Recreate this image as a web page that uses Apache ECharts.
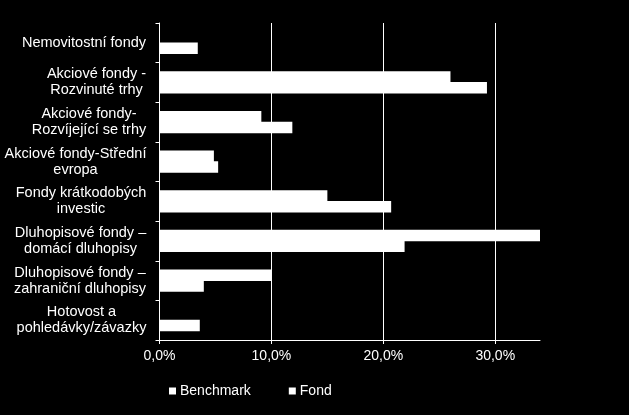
<!DOCTYPE html>
<html><head><meta charset="utf-8">
<script src="https://cdn.jsdelivr.net/npm/echarts@6/dist/echarts.min.js"></script>
<style>html,body{margin:0;padding:0;background:#000}#c{width:629px;height:415px}</style>
</head><body><div id="c"></div>
<script>
const categories = [
  "Nemovitostní fondy",
  "Akciové fondy -\nRozvinuté trhy",
  "Akciové fondy-\nRozvíjející se trhy",
  "Akciové fondy-Střední\nevropa",
  "Fondy krátkodobých\ninvestic",
  "Dluhopisové fondy –\ndomácí dluhopisy",
  "Dluhopisové fondy –\nzahraniční dluhopisy",
  "Hotovost a\npohledávky/závazky"
];
const benchmark = [0, 0.260, 0.091, 0.0486, 0.150, 0.340, 0.100, 0];
const fond = [0.0342, 0.2926, 0.1187, 0.0524, 0.207, 0.219, 0.0396, 0.036];
const seriesNames = ["Benchmark", "Fond"];
const xTickLabels = ["0,0%", "10,0%", "20,0%", "30,0%"];

const FAMILY = '"Liberation Sans", Arial, sans-serif';
const CAT_SIZE = 14.5;
const ctx = document.createElement('canvas').getContext('2d');
ctx.font = CAT_SIZE + 'px ' + FAMILY;
const rich = {};
categories.forEach((c, i) => {
  const w = Math.max(...c.split('\n').map(l => ctx.measureText(l).width));
  rich['r' + i] = { width: Math.ceil(w), align: 'center', color: '#fff', fontSize: CAT_SIZE, fontFamily: FAMILY, lineHeight: 16 };
});

const chart = echarts.init(document.getElementById('c'));
chart.setOption({
  backgroundColor: '#000',
  animation: false,
  grid: { left: 159.5, right: 89, top: 23, bottom: 75 },
  legend: {
    data: seriesNames,
    left: 164, top: 379,
    icon: 'rect', itemWidth: 7, itemHeight: 7, itemGap: 38,
    textStyle: { color: '#fff', fontSize: 14, fontFamily: FAMILY, padding: [0, 0, 0, -1] }
  },
  xAxis: {
    type: 'value', min: 0, max: 0.34, interval: 0.1,
    axisLine: { show: true, lineStyle: { color: '#fff', width: 1 } },
    axisTick: { show: true, length: 4, lineStyle: { color: '#fff' } },
    splitLine: { show: true, lineStyle: { color: ['#fff', '#fff', '#fff', '#fff', 'rgba(0,0,0,0)'], width: 1 } },
    axisLabel: {
      color: '#fff', fontSize: 14, fontFamily: FAMILY, margin: 9,
      showMaxLabel: false,
      formatter: v => { const i = Math.round(v * 10); return Math.abs(v * 10 - i) < 1e-6 && xTickLabels[i] ? xTickLabels[i] : ''; }
    }
  },
  yAxis: {
    type: 'category', inverse: true, data: categories,
    axisLine: { show: true, lineStyle: { color: '#fff', width: 1 } },
    axisTick: { show: true, length: 4, lineStyle: { color: '#fff' } },
    splitLine: { show: false },
    axisLabel: {
      margin: 13, align: 'right',
      formatter: (v, i) => v.split('\n').map(l => '{r' + i + '|' + l + '}').join('\n'),
      rich: rich
    }
  },
  series: [
    { name: seriesNames[0], type: 'bar', data: benchmark, barWidth: 11.5, barGap: '-6%', itemStyle: { color: '#fff' } },
    { name: seriesNames[1], type: 'bar', data: fond, barWidth: 11.5, barGap: '-6%', itemStyle: { color: '#fff' } }
  ]
});
</script></body></html>
